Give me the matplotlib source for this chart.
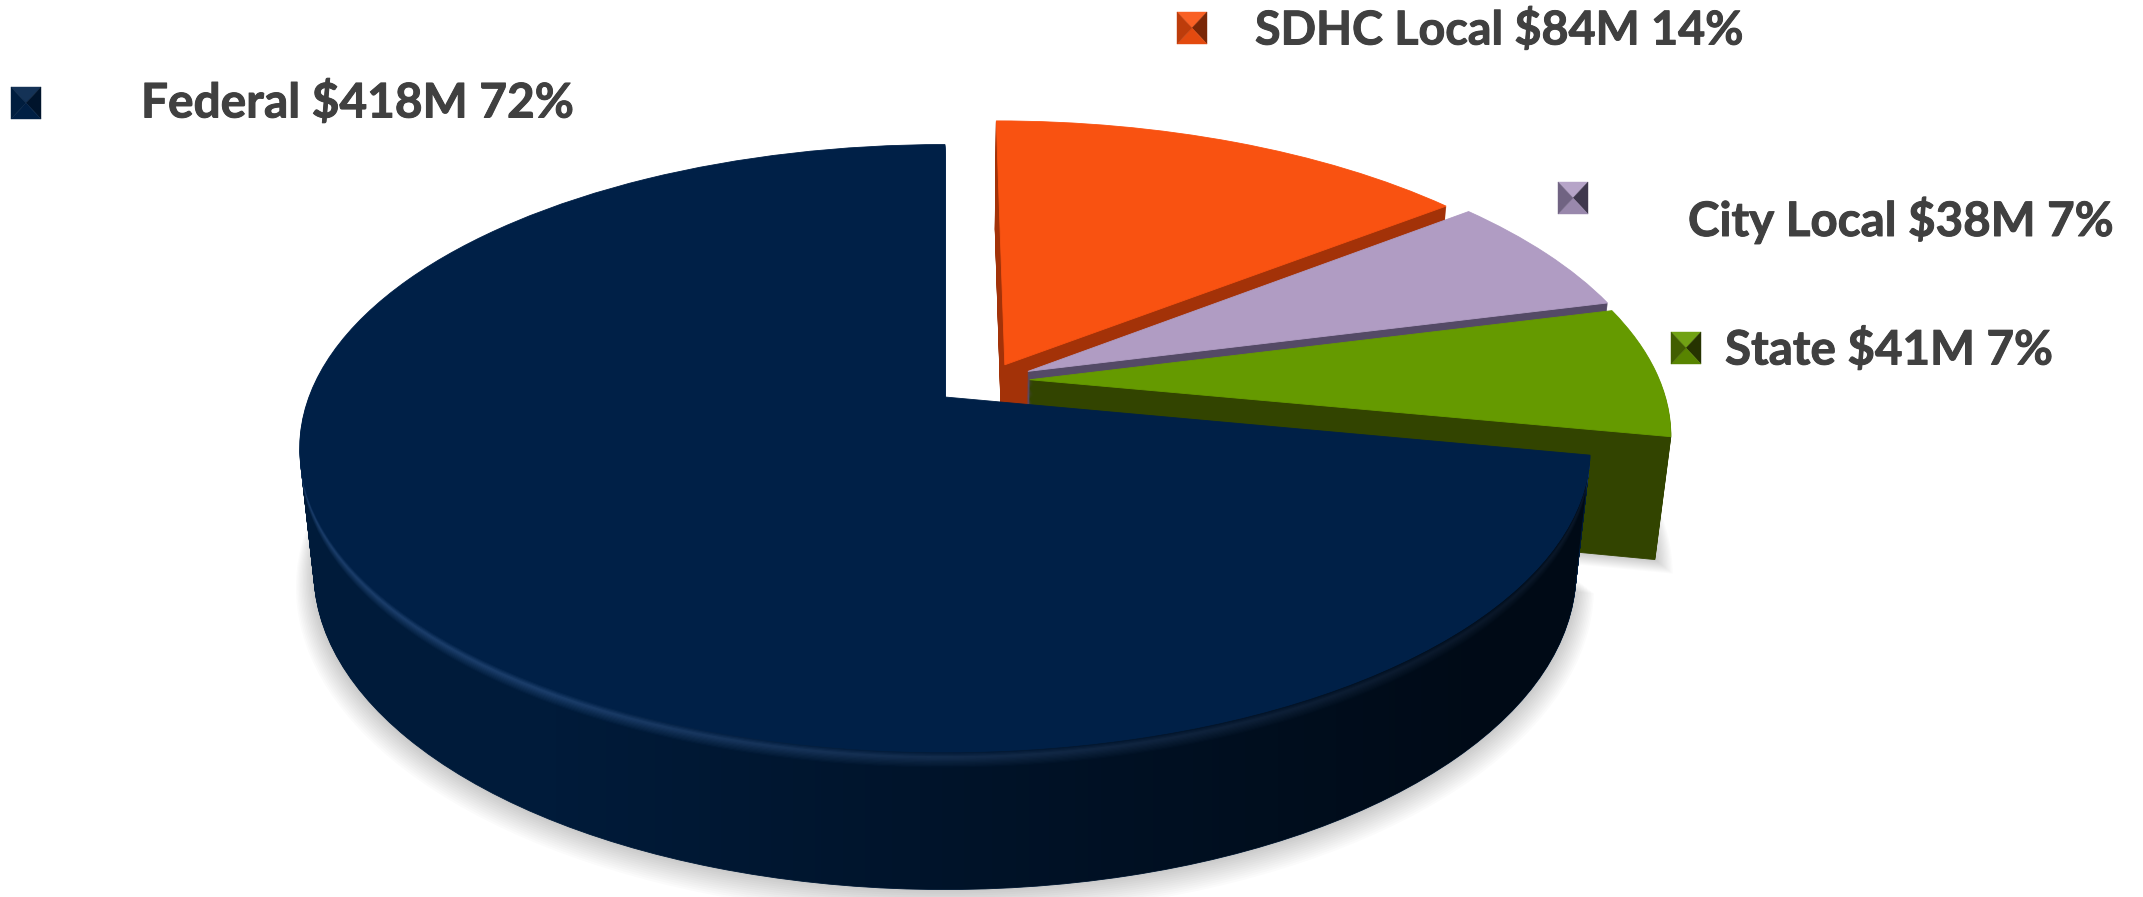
import numpy as np
import matplotlib
matplotlib.use('Agg')
import matplotlib.pyplot as plt
import matplotlib.patheffects as pe
from matplotlib.patches import Polygon
from matplotlib.transforms import Transform
from matplotlib.colors import to_rgb

# data
names = ['Federal', 'State', 'City Local', 'SDHC Local']
values = [418, 41, 38, 84]
amounts = ['$418M', '$41M', '$38M', '$84M']
percents = ['72%', '7%', '7%', '14%']
explode = [0.09, 0.065, 0.07, 0.06]

# styles
top_colors = ['#002047', '#659a00', '#b09cc3', '#f95211']
wall_colors = ['#001b3a', '#324400', '#544a66', '#a33208']
draw_rank = [3, 2, 1, 0]
label_pos = [(141, 103), (1725, 350), (1688, 220), (1255, 30)]
label_size = [34.4, 34.2, 34.2, 33.6]
swatch_pos = [(11, 87), (1671, 332), (1558, 182), (1177, 12)]
text_color = '#404040'

# screen position of the pie
CX, CY, RX, RY = 945, 397, 636, 295
TILT = 0.1685
DEPTH = 121
SHRINK = 0.022

fed_mid = np.radians(90 + 0.5 * 360 * values[0] / sum(values))
shift_x = -explode[0] * np.cos(fed_mid)
shift_y = -explode[0] * np.sin(fed_mid)


def project(xy, z):
    x = xy[:, 0] + shift_x
    y = xy[:, 1] + shift_y
    w = 1 + TILT * y
    s = 1 - SHRINK * z
    return np.column_stack([CX + RX * x / w * s,
                            CY - RY * y / w * s + DEPTH * z / w])


class Tilted(Transform):
    input_dims = 2
    output_dims = 2

    def __init__(self, z):
        super().__init__()
        self.z = z

    def transform_non_affine(self, xy):
        return project(np.asarray(xy, dtype=float), self.z)


def blend(a, b, t):
    a, b = np.array(to_rgb(a)), np.array(to_rgb(b))
    return tuple(a + (b - a) * t)


def federal_wall(z):
    # light edge just under the top face
    if z > 0.12:
        return wall_colors[0]
    if z > 0.04:
        return blend('#1c3f6c', wall_colors[0], (z - 0.04) / 0.08)
    return blend(top_colors[0], '#1c3f6c', z / 0.04)


fig, ax = plt.subplots(figsize=(21.43, 8.97), dpi=100)
fig.subplots_adjust(0, 0, 1, 1)

# soft shadow under the pie
for k in range(14):
    r = 1.03 - 0.03 * k / 13
    wedges, _ = ax.pie(values, explode=explode, startangle=90, radius=r,
                       colors=['black'] * 4,
                       wedgeprops={'linewidth': 0, 'alpha': 0.016})
    for w in wedges:
        w.set_transform(Tilted(1.1 - 0.1 * k / 13) + ax.transData)
        w.set_zorder(1)

# side walls, stacked from the bottom up
for z in np.linspace(1, 0.0, 110):
    colors = [federal_wall(z)] + wall_colors[1:]
    if z == 0:
        colors = top_colors
    wedges, _ = ax.pie(values, explode=explode, startangle=90, colors=colors,
                       wedgeprops={'linewidth': 0.6})
    for i, w in enumerate(wedges):
        w.set_edgecolor(w.get_facecolor())
        w.set_transform(Tilted(z) + ax.transData)
        w.set_zorder(10 * (draw_rank[i] + 1) + (1 if z == 0 else 0))

# darkening of the federal wall towards the right
end_angle = 90 + 360 * values[0] / sum(values)
t = np.radians(np.linspace(180, end_angle, 200))
rim = np.column_stack([np.cos(t) + explode[0] * np.cos(fed_mid),
                       np.sin(t) + explode[0] * np.sin(fed_mid)])
outline = np.vstack([project(rim, 0), project(rim, 1)[::-1]])
ramp = np.zeros((1, 2143, 4))
ramp[0, :, 3] = np.interp(np.arange(2143), [550, 1000, 1500], [0, 0.32, 0.62])
im = ax.imshow(ramp, extent=(0, 2143, 897, 0), aspect='auto', zorder=40.5)
im.set_clip_path(Polygon(outline, transform=ax.transData))

# legend entries
for i, name in enumerate(names):
    ax.text(label_pos[i][0], label_pos[i][1],
            f'{name} {amounts[i]} {percents[i]}',
            family='Lato', weight='bold', fontsize=label_size[i], color=text_color,
            ha='left', va='center', zorder=60,
            path_effects=[pe.withStroke(linewidth=0.7, foreground=text_color)])
    x0, y0 = swatch_pos[i]
    x1, y1 = x0 + 30, y0 + 32
    mx, my = (x0 + x1) / 2, (y0 + y1) / 2
    corners = [(x0, y0), (x1, y0), (x1, y1), (x0, y1)]
    shades = [blend(top_colors[i], 'white', 0.08), blend(wall_colors[i], 'black', 0.25),
              blend(top_colors[i], wall_colors[i], 0.25), blend(top_colors[i], wall_colors[i], 0.7)]
    for k in range(4):
        ax.add_patch(Polygon([corners[k], corners[(k + 1) % 4], (mx, my)], closed=True,
                             facecolor=shades[k], edgecolor=shades[k], linewidth=0.3, zorder=60))

ax.set_aspect('auto')
ax.set_xlim(0, 2143)
ax.set_ylim(897, 0)
ax.axis('off')

fig.savefig('out.png', dpi=100, facecolor='white')
